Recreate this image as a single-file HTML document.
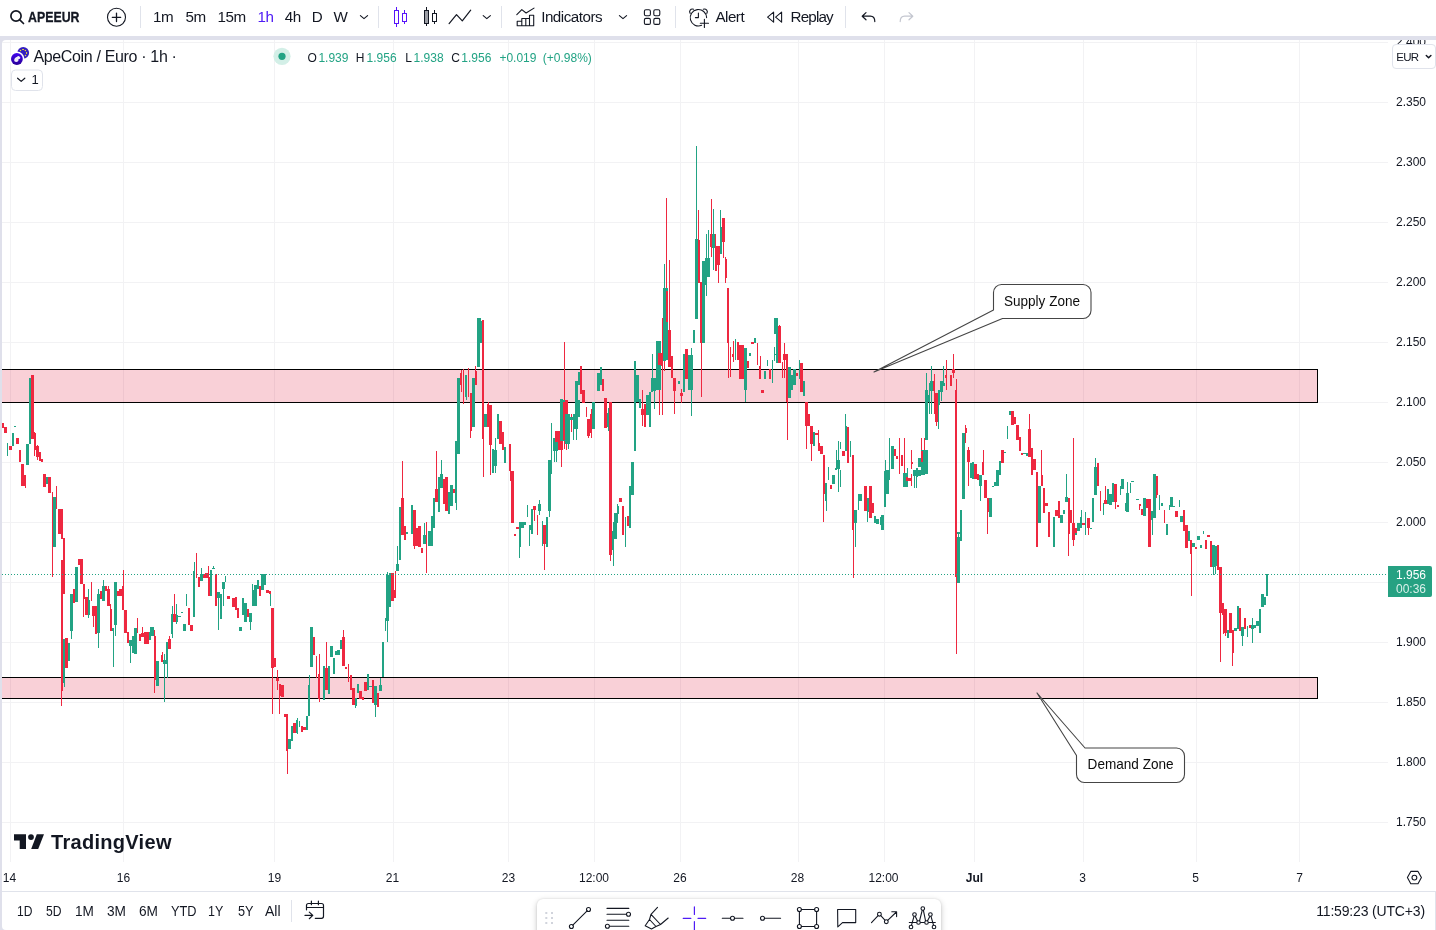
<!DOCTYPE html>
<html lang="en">
<head>
<meta charset="utf-8">
<title>APEEUR chart</title>
<style>
*{box-sizing:border-box;margin:0;padding:0}
html,body{width:1436px;height:930px;overflow:hidden;background:#fff}
body{position:relative;font-family:"Liberation Sans",sans-serif;color:#131722;-webkit-font-smoothing:antialiased}
.abs{position:absolute}
#frame{position:absolute;left:0;top:36px;width:1436px;height:894px;background:#dfe0eb}
#inner{position:absolute;left:2px;top:4px;width:1434px;height:890px;background:#fff;border-radius:4px 0 0 4px}
#topbar{position:absolute;left:0;top:0;width:1436px;height:36px;background:#fff}
.tb{position:absolute;top:0;height:36px;line-height:33px;font-size:15.200px;letter-spacing:-0.500px;white-space:nowrap;color:#131722}
.sep{position:absolute;width:1px;background:#e0e3eb}
.tl{position:absolute;top:870px;height:16px;line-height:16px;font-size:12px;transform:translateX(-50%);white-space:nowrap;color:#131722}
.pl{position:absolute;left:1396px;height:16px;line-height:16px;font-size:12px;white-space:nowrap;color:#131722}
.bb{position:absolute;top:892px;height:38px;line-height:38px;font-size:14px;white-space:nowrap;color:#131722}
#root{position:absolute;left:0;top:0;width:1436px;height:930px;will-change:transform}
svg{position:absolute;left:0;top:0;overflow:visible}
</style>
</head>
<body>
<div id="root">
<div id="frame"><div id="inner"></div></div>
<div id="topbar"></div>

<!-- chart svg: grid, zones, candles -->
<svg id="chart" width="1436" height="930" viewBox="0 0 1436 930">
<defs><clipPath id="pane"><rect x="2" y="40" width="1386" height="822"/></clipPath></defs>
<g clip-path="url(#pane)">
<g id="grid" shape-rendering="crispEdges" fill="#f2f2f4">
<rect x="2" y="42" width="1386" height="1"/>
<rect x="2" y="102" width="1386" height="1"/>
<rect x="2" y="162" width="1386" height="1"/>
<rect x="2" y="222" width="1386" height="1"/>
<rect x="2" y="282" width="1386" height="1"/>
<rect x="2" y="342" width="1386" height="1"/>
<rect x="2" y="402" width="1386" height="1"/>
<rect x="2" y="462" width="1386" height="1"/>
<rect x="2" y="522" width="1386" height="1"/>
<rect x="2" y="582" width="1386" height="1"/>
<rect x="2" y="642" width="1386" height="1"/>
<rect x="2" y="702" width="1386" height="1"/>
<rect x="2" y="762" width="1386" height="1"/>
<rect x="2" y="822" width="1386" height="1"/>
<rect x="10" y="40" width="1" height="822"/>
<rect x="123" y="40" width="1" height="822"/>
<rect x="274" y="40" width="1" height="822"/>
<rect x="393" y="40" width="1" height="822"/>
<rect x="508" y="40" width="1" height="822"/>
<rect x="594" y="40" width="1" height="822"/>
<rect x="680" y="40" width="1" height="822"/>
<rect x="798" y="40" width="1" height="822"/>
<rect x="884" y="40" width="1" height="822"/>
<rect x="974" y="40" width="1" height="822"/>
<rect x="1083" y="40" width="1" height="822"/>
<rect x="1196" y="40" width="1" height="822"/>
<rect x="1299" y="40" width="1" height="822"/>
</g>
<g id="zones" shape-rendering="crispEdges">
<rect x="-3.5" y="369.5" width="1321.0" height="33.0" fill="rgba(228,25,60,0.205)" stroke="#000" stroke-width="1"/>
<rect x="-3.5" y="677.5" width="1321.0" height="21.0" fill="rgba(228,25,60,0.205)" stroke="#000" stroke-width="1"/>
</g>
<g id="candles" shape-rendering="crispEdges">
<rect x="7" y="443" width="1" height="13" fill="#22a384"/>
<rect x="25" y="486" width="1" height="2" fill="#ee2840"/>
<rect x="34" y="432" width="1" height="24" fill="#ee2840"/>
<rect x="37" y="445" width="1" height="15" fill="#ee2840"/>
<rect x="52" y="492" width="1" height="85" fill="#ee2840"/>
<rect x="56" y="486" width="1" height="23" fill="#ee2840"/>
<rect x="61" y="691" width="1" height="15" fill="#ee2840"/>
<rect x="64" y="683" width="1" height="4" fill="#22a384"/>
<rect x="71" y="631" width="1" height="8" fill="#22a384"/>
<rect x="83" y="599" width="1" height="18" fill="#ee2840"/>
<rect x="88" y="589" width="1" height="29" fill="#22a384"/>
<rect x="91" y="582" width="1" height="19" fill="#ee2840"/>
<rect x="93" y="616" width="1" height="11" fill="#ee2840"/>
<rect x="98" y="589" width="1" height="59" fill="#22a384"/>
<rect x="103" y="580" width="1" height="6" fill="#22a384"/>
<rect x="108" y="586" width="1" height="3" fill="#ee2840"/>
<rect x="110" y="604" width="1" height="5" fill="#ee2840"/>
<rect x="113" y="628" width="1" height="39" fill="#22a384"/>
<rect x="115" y="625" width="1" height="11" fill="#22a384"/>
<rect x="123" y="570" width="1" height="16" fill="#ee2840"/>
<rect x="130" y="646" width="1" height="17" fill="#22a384"/>
<rect x="137" y="618" width="1" height="15" fill="#ee2840"/>
<rect x="142" y="627" width="1" height="6" fill="#ee2840"/>
<rect x="150" y="627" width="1" height="5" fill="#22a384"/>
<rect x="154" y="630" width="1" height="63" fill="#ee2840"/>
<rect x="162" y="652" width="1" height="3" fill="#ee2840"/>
<rect x="164" y="654" width="1" height="48" fill="#22a384"/>
<rect x="167" y="664" width="1" height="14" fill="#22a384"/>
<rect x="169" y="636" width="1" height="3" fill="#ee2840"/>
<rect x="172" y="606" width="1" height="32" fill="#22a384"/>
<rect x="174" y="594" width="1" height="20" fill="#ee2840"/>
<rect x="176" y="604" width="1" height="20" fill="#22a384"/>
<rect x="186" y="594" width="1" height="12" fill="#22a384"/>
<rect x="194" y="562" width="1" height="9" fill="#22a384"/>
<rect x="196" y="553" width="1" height="25" fill="#ee2840"/>
<rect x="201" y="568" width="1" height="6" fill="#22a384"/>
<rect x="208" y="566" width="1" height="11" fill="#ee2840"/>
<rect x="213" y="566" width="1" height="2" fill="#22a384"/>
<rect x="218" y="598" width="1" height="32" fill="#22a384"/>
<rect x="223" y="589" width="1" height="17" fill="#22a384"/>
<rect x="225" y="576" width="1" height="6" fill="#22a384"/>
<rect x="250" y="622" width="1" height="8" fill="#22a384"/>
<rect x="252" y="584" width="1" height="6" fill="#22a384"/>
<rect x="270" y="593" width="1" height="13" fill="#22a384"/>
<rect x="272" y="668" width="1" height="46" fill="#ee2840"/>
<rect x="277" y="670" width="1" height="20" fill="#ee2840"/>
<rect x="279" y="684" width="1" height="30" fill="#ee2840"/>
<rect x="287" y="751" width="1" height="3" fill="#ee2840"/>
<rect x="287" y="751" width="1" height="23" fill="#ee2840"/>
<rect x="294" y="723" width="1" height="10" fill="#ee2840"/>
<rect x="297" y="718" width="1" height="2" fill="#22a384"/>
<rect x="297" y="718" width="1" height="16" fill="#22a384"/>
<rect x="299" y="721" width="1" height="6" fill="#22a384"/>
<rect x="309" y="675" width="1" height="10" fill="#22a384"/>
<rect x="316" y="656" width="1" height="22" fill="#ee2840"/>
<rect x="319" y="654" width="1" height="48" fill="#ee2840"/>
<rect x="326" y="642" width="1" height="26" fill="#ee2840"/>
<rect x="343" y="630" width="1" height="7" fill="#ee2840"/>
<rect x="348" y="664" width="1" height="18" fill="#ee2840"/>
<rect x="355" y="706" width="1" height="2" fill="#22a384"/>
<rect x="375" y="705" width="1" height="12" fill="#22a384"/>
<rect x="380" y="678" width="1" height="7" fill="#22a384"/>
<rect x="385" y="618" width="1" height="13" fill="#22a384"/>
<rect x="387" y="621" width="1" height="21" fill="#22a384"/>
<rect x="387" y="572" width="1" height="3" fill="#22a384"/>
<rect x="395" y="571" width="1" height="23" fill="#ee2840"/>
<rect x="397" y="546" width="1" height="18" fill="#22a384"/>
<rect x="402" y="461" width="1" height="37" fill="#ee2840"/>
<rect x="414" y="546" width="1" height="3" fill="#ee2840"/>
<rect x="424" y="523" width="1" height="12" fill="#22a384"/>
<rect x="426" y="522" width="1" height="51" fill="#ee2840"/>
<rect x="436" y="451" width="1" height="38" fill="#ee2840"/>
<rect x="441" y="460" width="1" height="14" fill="#22a384"/>
<rect x="456" y="503" width="1" height="7" fill="#22a384"/>
<rect x="461" y="370" width="1" height="22" fill="#ee2840"/>
<rect x="463" y="369" width="1" height="35" fill="#ee2840"/>
<rect x="466" y="397" width="1" height="3" fill="#22a384"/>
<rect x="468" y="368" width="1" height="29" fill="#ee2840"/>
<rect x="470" y="431" width="1" height="7" fill="#ee2840"/>
<rect x="475" y="366" width="1" height="5" fill="#ee2840"/>
<rect x="480" y="318" width="1" height="3" fill="#22a384"/>
<rect x="483" y="439" width="1" height="38" fill="#ee2840"/>
<rect x="483" y="439" width="1" height="15" fill="#ee2840"/>
<rect x="488" y="402" width="1" height="25" fill="#ee2840"/>
<rect x="490" y="445" width="1" height="30" fill="#ee2840"/>
<rect x="495" y="439" width="1" height="34" fill="#22a384"/>
<rect x="495" y="438" width="1" height="16" fill="#22a384"/>
<rect x="510" y="444" width="1" height="37" fill="#ee2840"/>
<rect x="519" y="547" width="1" height="11" fill="#22a384"/>
<rect x="527" y="505" width="1" height="12" fill="#22a384"/>
<rect x="529" y="530" width="1" height="16" fill="#22a384"/>
<rect x="534" y="510" width="1" height="11" fill="#ee2840"/>
<rect x="537" y="515" width="1" height="20" fill="#ee2840"/>
<rect x="539" y="500" width="1" height="15" fill="#22a384"/>
<rect x="542" y="521" width="1" height="25" fill="#22a384"/>
<rect x="544" y="544" width="1" height="26" fill="#ee2840"/>
<rect x="549" y="511" width="1" height="6" fill="#22a384"/>
<rect x="551" y="423" width="1" height="51" fill="#22a384"/>
<rect x="551" y="423" width="1" height="31" fill="#22a384"/>
<rect x="554" y="451" width="1" height="11" fill="#22a384"/>
<rect x="556" y="451" width="1" height="11" fill="#22a384"/>
<rect x="561" y="450" width="1" height="17" fill="#ee2840"/>
<rect x="564" y="342" width="1" height="60" fill="#ee2840"/>
<rect x="564" y="440" width="1" height="9" fill="#ee2840"/>
<rect x="566" y="441" width="1" height="9" fill="#ee2840"/>
<rect x="568" y="444" width="1" height="5" fill="#22a384"/>
<rect x="571" y="414" width="1" height="18" fill="#ee2840"/>
<rect x="573" y="414" width="1" height="18" fill="#ee2840"/>
<rect x="573" y="429" width="1" height="11" fill="#22a384"/>
<rect x="576" y="429" width="1" height="11" fill="#22a384"/>
<rect x="586" y="407" width="1" height="10" fill="#ee2840"/>
<rect x="588" y="436" width="1" height="2" fill="#ee2840"/>
<rect x="591" y="409" width="1" height="29" fill="#ee2840"/>
<rect x="608" y="408" width="1" height="23" fill="#22a384"/>
<rect x="610" y="555" width="1" height="6" fill="#ee2840"/>
<rect x="613" y="522" width="1" height="44" fill="#22a384"/>
<rect x="617" y="504" width="1" height="19" fill="#22a384"/>
<rect x="625" y="517" width="1" height="30" fill="#22a384"/>
<rect x="642" y="405" width="1" height="21" fill="#ee2840"/>
<rect x="642" y="390" width="1" height="36" fill="#ee2840"/>
<rect x="652" y="354" width="1" height="38" fill="#22a384"/>
<rect x="654" y="400" width="1" height="8" fill="#22a384"/>
<rect x="654" y="378" width="1" height="30" fill="#22a384"/>
<rect x="654" y="391" width="1" height="18" fill="#22a384"/>
<rect x="659" y="400" width="1" height="15" fill="#ee2840"/>
<rect x="659" y="365" width="1" height="49" fill="#ee2840"/>
<rect x="662" y="366" width="1" height="49" fill="#ee2840"/>
<rect x="662" y="318" width="1" height="16" fill="#ee2840"/>
<rect x="662" y="318" width="1" height="47" fill="#ee2840"/>
<rect x="664" y="318" width="1" height="53" fill="#ee2840"/>
<rect x="664" y="264" width="1" height="24" fill="#22a384"/>
<rect x="666" y="264" width="1" height="24" fill="#22a384"/>
<rect x="666" y="198" width="1" height="93" fill="#ee2840"/>
<rect x="669" y="260" width="1" height="62" fill="#ee2840"/>
<rect x="669" y="305" width="1" height="25" fill="#ee2840"/>
<rect x="674" y="391" width="1" height="23" fill="#ee2840"/>
<rect x="681" y="389" width="1" height="14" fill="#ee2840"/>
<rect x="691" y="390" width="1" height="26" fill="#22a384"/>
<rect x="691" y="348" width="1" height="7" fill="#22a384"/>
<rect x="696" y="146" width="1" height="93" fill="#22a384"/>
<rect x="698" y="210" width="1" height="30" fill="#ee2840"/>
<rect x="701" y="343" width="1" height="54" fill="#ee2840"/>
<rect x="706" y="234" width="1" height="62" fill="#22a384"/>
<rect x="708" y="230" width="1" height="28" fill="#22a384"/>
<rect x="711" y="199" width="1" height="35" fill="#ee2840"/>
<rect x="711" y="247" width="1" height="10" fill="#ee2840"/>
<rect x="713" y="209" width="1" height="25" fill="#22a384"/>
<rect x="713" y="248" width="1" height="22" fill="#22a384"/>
<rect x="715" y="234" width="1" height="12" fill="#ee2840"/>
<rect x="718" y="265" width="1" height="18" fill="#ee2840"/>
<rect x="720" y="210" width="1" height="17" fill="#22a384"/>
<rect x="723" y="242" width="1" height="16" fill="#ee2840"/>
<rect x="725" y="257" width="1" height="2" fill="#ee2840"/>
<rect x="725" y="278" width="1" height="5" fill="#ee2840"/>
<rect x="728" y="343" width="1" height="35" fill="#ee2840"/>
<rect x="730" y="347" width="1" height="30" fill="#ee2840"/>
<rect x="733" y="341" width="1" height="21" fill="#ee2840"/>
<rect x="735" y="339" width="1" height="21" fill="#22a384"/>
<rect x="745" y="390" width="1" height="12" fill="#22a384"/>
<rect x="757" y="343" width="1" height="22" fill="#ee2840"/>
<rect x="760" y="356" width="1" height="10" fill="#ee2840"/>
<rect x="767" y="360" width="1" height="6" fill="#22a384"/>
<rect x="772" y="360" width="1" height="23" fill="#22a384"/>
<rect x="774" y="347" width="1" height="14" fill="#22a384"/>
<rect x="779" y="325" width="1" height="2" fill="#ee2840"/>
<rect x="779" y="325" width="1" height="1" fill="#ee2840"/>
<rect x="782" y="362" width="1" height="16" fill="#ee2840"/>
<rect x="784" y="343" width="1" height="35" fill="#ee2840"/>
<rect x="787" y="402" width="1" height="38" fill="#ee2840"/>
<rect x="799" y="360" width="1" height="19" fill="#22a384"/>
<rect x="806" y="426" width="1" height="23" fill="#ee2840"/>
<rect x="811" y="444" width="1" height="17" fill="#ee2840"/>
<rect x="818" y="430" width="1" height="16" fill="#ee2840"/>
<rect x="823" y="494" width="1" height="28" fill="#ee2840"/>
<rect x="826" y="501" width="1" height="10" fill="#22a384"/>
<rect x="828" y="467" width="1" height="13" fill="#22a384"/>
<rect x="828" y="470" width="1" height="9" fill="#22a384"/>
<rect x="833" y="475" width="1" height="9" fill="#22a384"/>
<rect x="836" y="450" width="1" height="19" fill="#22a384"/>
<rect x="838" y="441" width="1" height="46" fill="#22a384"/>
<rect x="838" y="487" width="1" height="5" fill="#22a384"/>
<rect x="840" y="442" width="1" height="7" fill="#22a384"/>
<rect x="840" y="470" width="1" height="17" fill="#22a384"/>
<rect x="845" y="414" width="1" height="12" fill="#22a384"/>
<rect x="850" y="441" width="1" height="16" fill="#22a384"/>
<rect x="853" y="530" width="1" height="48" fill="#ee2840"/>
<rect x="855" y="523" width="1" height="24" fill="#22a384"/>
<rect x="858" y="494" width="1" height="16" fill="#22a384"/>
<rect x="867" y="512" width="1" height="10" fill="#22a384"/>
<rect x="880" y="517" width="1" height="8" fill="#22a384"/>
<rect x="885" y="460" width="1" height="11" fill="#22a384"/>
<rect x="889" y="438" width="1" height="42" fill="#22a384"/>
<rect x="899" y="438" width="1" height="36" fill="#ee2840"/>
<rect x="904" y="438" width="1" height="35" fill="#ee2840"/>
<rect x="907" y="468" width="1" height="5" fill="#22a384"/>
<rect x="911" y="450" width="1" height="19" fill="#ee2840"/>
<rect x="911" y="474" width="1" height="12" fill="#ee2840"/>
<rect x="914" y="474" width="1" height="12" fill="#ee2840"/>
<rect x="914" y="476" width="1" height="12" fill="#22a384"/>
<rect x="916" y="477" width="1" height="11" fill="#22a384"/>
<rect x="921" y="438" width="1" height="13" fill="#ee2840"/>
<rect x="924" y="438" width="1" height="13" fill="#ee2840"/>
<rect x="926" y="373" width="1" height="17" fill="#22a384"/>
<rect x="929" y="383" width="1" height="31" fill="#22a384"/>
<rect x="931" y="366" width="1" height="48" fill="#22a384"/>
<rect x="934" y="374" width="1" height="40" fill="#ee2840"/>
<rect x="936" y="422" width="1" height="4" fill="#ee2840"/>
<rect x="938" y="405" width="1" height="24" fill="#22a384"/>
<rect x="941" y="392" width="1" height="9" fill="#22a384"/>
<rect x="943" y="366" width="1" height="17" fill="#22a384"/>
<rect x="946" y="360" width="1" height="30" fill="#ee2840"/>
<rect x="953" y="354" width="1" height="24" fill="#ee2840"/>
<rect x="956" y="577" width="1" height="77" fill="#ee2840"/>
<rect x="956" y="379" width="1" height="11" fill="#ee2840"/>
<rect x="958" y="533" width="1" height="4" fill="#22a384"/>
<rect x="960" y="510" width="1" height="24" fill="#22a384"/>
<rect x="965" y="425" width="1" height="18" fill="#ee2840"/>
<rect x="968" y="447" width="1" height="39" fill="#ee2840"/>
<rect x="980" y="486" width="1" height="15" fill="#22a384"/>
<rect x="983" y="450" width="1" height="12" fill="#ee2840"/>
<rect x="987" y="510" width="1" height="24" fill="#ee2840"/>
<rect x="987" y="512" width="1" height="22" fill="#ee2840"/>
<rect x="1007" y="426" width="1" height="13" fill="#22a384"/>
<rect x="1029" y="414" width="1" height="15" fill="#ee2840"/>
<rect x="1041" y="450" width="1" height="25" fill="#ee2840"/>
<rect x="1066" y="474" width="1" height="23" fill="#22a384"/>
<rect x="1068" y="528" width="1" height="28" fill="#ee2840"/>
<rect x="1073" y="438" width="1" height="85" fill="#ee2840"/>
<rect x="1073" y="540" width="1" height="6" fill="#ee2840"/>
<rect x="1081" y="510" width="1" height="14" fill="#22a384"/>
<rect x="1085" y="512" width="1" height="22" fill="#22a384"/>
<rect x="1085" y="512" width="1" height="23" fill="#22a384"/>
<rect x="1088" y="528" width="1" height="7" fill="#ee2840"/>
<rect x="1095" y="458" width="1" height="9" fill="#22a384"/>
<rect x="1100" y="491" width="1" height="20" fill="#ee2840"/>
<rect x="1103" y="503" width="1" height="12" fill="#22a384"/>
<rect x="1103" y="510" width="1" height="5" fill="#22a384"/>
<rect x="1105" y="486" width="1" height="18" fill="#ee2840"/>
<rect x="1115" y="502" width="1" height="7" fill="#ee2840"/>
<rect x="1120" y="486" width="1" height="9" fill="#22a384"/>
<rect x="1125" y="503" width="1" height="8" fill="#22a384"/>
<rect x="1127" y="482" width="1" height="11" fill="#22a384"/>
<rect x="1130" y="483" width="1" height="10" fill="#22a384"/>
<rect x="1139" y="506" width="1" height="4" fill="#ee2840"/>
<rect x="1152" y="520" width="1" height="11" fill="#22a384"/>
<rect x="1152" y="519" width="1" height="16" fill="#22a384"/>
<rect x="1156" y="495" width="1" height="3" fill="#ee2840"/>
<rect x="1159" y="495" width="1" height="15" fill="#22a384"/>
<rect x="1164" y="510" width="1" height="13" fill="#ee2840"/>
<rect x="1169" y="505" width="1" height="5" fill="#22a384"/>
<rect x="1179" y="500" width="1" height="7" fill="#22a384"/>
<rect x="1191" y="554" width="1" height="42" fill="#ee2840"/>
<rect x="1203" y="531" width="1" height="3" fill="#22a384"/>
<rect x="1203" y="531" width="1" height="2" fill="#22a384"/>
<rect x="1213" y="567" width="1" height="8" fill="#22a384"/>
<rect x="1215" y="566" width="1" height="8" fill="#22a384"/>
<rect x="1220" y="613" width="1" height="49" fill="#ee2840"/>
<rect x="1223" y="615" width="1" height="19" fill="#ee2840"/>
<rect x="1225" y="633" width="1" height="3" fill="#ee2840"/>
<rect x="1232" y="653" width="1" height="13" fill="#ee2840"/>
<rect x="1242" y="636" width="1" height="10" fill="#22a384"/>
<rect x="1247" y="626" width="1" height="11" fill="#22a384"/>
<rect x="1252" y="618" width="1" height="25" fill="#22a384"/>
<rect x="2" y="423" width="2" height="5" fill="#ee2840"/>
<rect x="4" y="427" width="3" height="6" fill="#ee2840"/>
<rect x="9" y="446" width="3" height="4" fill="#ee2840"/>
<rect x="12" y="433" width="2" height="13" fill="#22a384"/>
<rect x="14" y="426" width="2" height="1" fill="#22a384"/>
<rect x="16" y="438" width="3" height="6" fill="#ee2840"/>
<rect x="19" y="450" width="2" height="12" fill="#ee2840"/>
<rect x="21" y="464" width="3" height="22" fill="#ee2840"/>
<rect x="24" y="475" width="2" height="11" fill="#ee2840"/>
<rect x="26" y="444" width="3" height="21" fill="#22a384"/>
<rect x="29" y="378" width="2" height="66" fill="#22a384"/>
<rect x="31" y="375" width="3" height="64" fill="#ee2840"/>
<rect x="34" y="433" width="2" height="17" fill="#ee2840"/>
<rect x="36" y="446" width="3" height="11" fill="#ee2840"/>
<rect x="39" y="452" width="2" height="9" fill="#ee2840"/>
<rect x="41" y="459" width="2" height="3" fill="#ee2840"/>
<rect x="43" y="474" width="3" height="13" fill="#ee2840"/>
<rect x="46" y="477" width="2" height="7" fill="#22a384"/>
<rect x="48" y="477" width="3" height="16" fill="#ee2840"/>
<rect x="53" y="497" width="3" height="50" fill="#22a384"/>
<rect x="58" y="509" width="3" height="25" fill="#ee2840"/>
<rect x="61" y="509" width="2" height="30" fill="#ee2840"/>
<rect x="61" y="560" width="2" height="131" fill="#ee2840"/>
<rect x="63" y="538" width="2" height="56" fill="#ee2840"/>
<rect x="63" y="639" width="2" height="44" fill="#22a384"/>
<rect x="65" y="638" width="3" height="30" fill="#ee2840"/>
<rect x="68" y="643" width="2" height="18" fill="#22a384"/>
<rect x="70" y="594" width="3" height="37" fill="#22a384"/>
<rect x="73" y="589" width="2" height="14" fill="#ee2840"/>
<rect x="75" y="567" width="3" height="35" fill="#22a384"/>
<rect x="78" y="559" width="2" height="6" fill="#ee2840"/>
<rect x="80" y="559" width="3" height="25" fill="#ee2840"/>
<rect x="83" y="584" width="2" height="15" fill="#ee2840"/>
<rect x="85" y="597" width="3" height="18" fill="#ee2840"/>
<rect x="88" y="600" width="2" height="15" fill="#22a384"/>
<rect x="92" y="606" width="3" height="10" fill="#ee2840"/>
<rect x="95" y="606" width="2" height="28" fill="#ee2840"/>
<rect x="97" y="594" width="3" height="39" fill="#22a384"/>
<rect x="100" y="591" width="2" height="8" fill="#ee2840"/>
<rect x="102" y="586" width="3" height="15" fill="#22a384"/>
<rect x="105" y="586" width="2" height="5" fill="#ee2840"/>
<rect x="107" y="589" width="3" height="17" fill="#ee2840"/>
<rect x="110" y="609" width="2" height="22" fill="#ee2840"/>
<rect x="112" y="628" width="2" height="3" fill="#22a384"/>
<rect x="114" y="582" width="3" height="43" fill="#22a384"/>
<rect x="117" y="591" width="2" height="5" fill="#ee2840"/>
<rect x="119" y="589" width="3" height="7" fill="#ee2840"/>
<rect x="122" y="586" width="2" height="24" fill="#ee2840"/>
<rect x="124" y="610" width="3" height="23" fill="#ee2840"/>
<rect x="127" y="632" width="2" height="11" fill="#ee2840"/>
<rect x="129" y="640" width="3" height="6" fill="#22a384"/>
<rect x="132" y="636" width="2" height="17" fill="#22a384"/>
<rect x="134" y="628" width="3" height="26" fill="#22a384"/>
<rect x="139" y="634" width="2" height="7" fill="#ee2840"/>
<rect x="141" y="633" width="3" height="4" fill="#ee2840"/>
<rect x="144" y="632" width="2" height="12" fill="#ee2840"/>
<rect x="146" y="632" width="3" height="12" fill="#ee2840"/>
<rect x="149" y="632" width="2" height="8" fill="#22a384"/>
<rect x="151" y="627" width="3" height="9" fill="#22a384"/>
<rect x="154" y="636" width="2" height="44" fill="#ee2840"/>
<rect x="156" y="661" width="3" height="25" fill="#22a384"/>
<rect x="161" y="655" width="2" height="7" fill="#ee2840"/>
<rect x="163" y="660" width="3" height="4" fill="#22a384"/>
<rect x="166" y="642" width="2" height="22" fill="#22a384"/>
<rect x="168" y="639" width="3" height="10" fill="#ee2840"/>
<rect x="171" y="614" width="2" height="20" fill="#22a384"/>
<rect x="173" y="614" width="3" height="8" fill="#ee2840"/>
<rect x="176" y="615" width="2" height="7" fill="#22a384"/>
<rect x="178" y="616" width="3" height="1" fill="#22a384"/>
<rect x="181" y="612" width="2" height="1" fill="#22a384"/>
<rect x="183" y="624" width="3" height="7" fill="#22a384"/>
<rect x="188" y="608" width="2" height="17" fill="#ee2840"/>
<rect x="190" y="625" width="3" height="6" fill="#ee2840"/>
<rect x="193" y="571" width="2" height="46" fill="#22a384"/>
<rect x="198" y="577" width="2" height="10" fill="#ee2840"/>
<rect x="200" y="574" width="3" height="7" fill="#22a384"/>
<rect x="203" y="574" width="2" height="4" fill="#ee2840"/>
<rect x="205" y="573" width="3" height="5" fill="#ee2840"/>
<rect x="208" y="577" width="2" height="19" fill="#ee2840"/>
<rect x="210" y="570" width="2" height="26" fill="#22a384"/>
<rect x="212" y="568" width="3" height="1" fill="#22a384"/>
<rect x="215" y="574" width="2" height="32" fill="#ee2840"/>
<rect x="217" y="592" width="3" height="6" fill="#22a384"/>
<rect x="220" y="594" width="2" height="25" fill="#22a384"/>
<rect x="222" y="582" width="3" height="7" fill="#22a384"/>
<rect x="227" y="596" width="3" height="3" fill="#ee2840"/>
<rect x="232" y="598" width="3" height="9" fill="#ee2840"/>
<rect x="235" y="597" width="2" height="13" fill="#ee2840"/>
<rect x="237" y="608" width="2" height="10" fill="#ee2840"/>
<rect x="239" y="627" width="3" height="4" fill="#22a384"/>
<rect x="242" y="598" width="2" height="17" fill="#22a384"/>
<rect x="244" y="603" width="3" height="19" fill="#22a384"/>
<rect x="247" y="609" width="2" height="8" fill="#ee2840"/>
<rect x="249" y="613" width="3" height="9" fill="#22a384"/>
<rect x="252" y="590" width="2" height="16" fill="#22a384"/>
<rect x="254" y="585" width="3" height="21" fill="#22a384"/>
<rect x="257" y="580" width="2" height="9" fill="#22a384"/>
<rect x="259" y="586" width="2" height="10" fill="#ee2840"/>
<rect x="261" y="574" width="3" height="16" fill="#22a384"/>
<rect x="264" y="574" width="2" height="11" fill="#22a384"/>
<rect x="266" y="590" width="3" height="3" fill="#ee2840"/>
<rect x="269" y="591" width="2" height="3" fill="#ee2840"/>
<rect x="271" y="608" width="3" height="60" fill="#ee2840"/>
<rect x="274" y="658" width="2" height="9" fill="#ee2840"/>
<rect x="276" y="678" width="3" height="3" fill="#ee2840"/>
<rect x="279" y="684" width="2" height="12" fill="#ee2840"/>
<rect x="281" y="685" width="3" height="12" fill="#ee2840"/>
<rect x="284" y="714" width="2" height="3" fill="#ee2840"/>
<rect x="286" y="714" width="2" height="37" fill="#ee2840"/>
<rect x="288" y="739" width="3" height="9" fill="#22a384"/>
<rect x="288" y="739" width="3" height="10" fill="#22a384"/>
<rect x="291" y="726" width="2" height="15" fill="#22a384"/>
<rect x="291" y="726" width="2" height="14" fill="#22a384"/>
<rect x="293" y="723" width="3" height="10" fill="#ee2840"/>
<rect x="293" y="728" width="3" height="5" fill="#ee2840"/>
<rect x="296" y="720" width="2" height="13" fill="#22a384"/>
<rect x="301" y="726" width="2" height="6" fill="#ee2840"/>
<rect x="303" y="727" width="3" height="3" fill="#ee2840"/>
<rect x="306" y="716" width="2" height="14" fill="#22a384"/>
<rect x="308" y="685" width="2" height="31" fill="#22a384"/>
<rect x="310" y="627" width="3" height="40" fill="#22a384"/>
<rect x="313" y="637" width="2" height="18" fill="#ee2840"/>
<rect x="318" y="674" width="2" height="25" fill="#ee2840"/>
<rect x="323" y="666" width="2" height="34" fill="#22a384"/>
<rect x="325" y="668" width="3" height="22" fill="#ee2840"/>
<rect x="328" y="666" width="2" height="28" fill="#22a384"/>
<rect x="330" y="646" width="3" height="11" fill="#22a384"/>
<rect x="333" y="658" width="2" height="16" fill="#22a384"/>
<rect x="335" y="651" width="2" height="4" fill="#22a384"/>
<rect x="337" y="650" width="3" height="5" fill="#22a384"/>
<rect x="340" y="640" width="2" height="9" fill="#22a384"/>
<rect x="342" y="637" width="3" height="29" fill="#ee2840"/>
<rect x="345" y="667" width="2" height="2" fill="#ee2840"/>
<rect x="350" y="675" width="2" height="15" fill="#ee2840"/>
<rect x="352" y="688" width="3" height="17" fill="#ee2840"/>
<rect x="355" y="698" width="2" height="8" fill="#22a384"/>
<rect x="357" y="684" width="2" height="9" fill="#22a384"/>
<rect x="359" y="691" width="3" height="8" fill="#ee2840"/>
<rect x="362" y="697" width="2" height="3" fill="#ee2840"/>
<rect x="364" y="682" width="3" height="9" fill="#ee2840"/>
<rect x="367" y="674" width="2" height="16" fill="#22a384"/>
<rect x="369" y="686" width="3" height="1" fill="#22a384"/>
<rect x="372" y="680" width="2" height="23" fill="#ee2840"/>
<rect x="374" y="686" width="3" height="19" fill="#22a384"/>
<rect x="377" y="693" width="2" height="14" fill="#ee2840"/>
<rect x="379" y="685" width="3" height="6" fill="#22a384"/>
<rect x="382" y="642" width="2" height="35" fill="#22a384"/>
<rect x="386" y="590" width="3" height="31" fill="#22a384"/>
<rect x="386" y="575" width="3" height="19" fill="#22a384"/>
<rect x="389" y="590" width="2" height="17" fill="#22a384"/>
<rect x="389" y="573" width="2" height="21" fill="#22a384"/>
<rect x="391" y="590" width="3" height="11" fill="#ee2840"/>
<rect x="391" y="573" width="3" height="21" fill="#ee2840"/>
<rect x="394" y="590" width="2" height="8" fill="#ee2840"/>
<rect x="396" y="564" width="3" height="7" fill="#22a384"/>
<rect x="399" y="507" width="2" height="53" fill="#22a384"/>
<rect x="401" y="498" width="3" height="37" fill="#ee2840"/>
<rect x="404" y="526" width="2" height="14" fill="#ee2840"/>
<rect x="406" y="532" width="2" height="2" fill="#22a384"/>
<rect x="411" y="505" width="2" height="29" fill="#22a384"/>
<rect x="413" y="510" width="3" height="36" fill="#ee2840"/>
<rect x="416" y="528" width="2" height="18" fill="#ee2840"/>
<rect x="418" y="526" width="3" height="21" fill="#ee2840"/>
<rect x="421" y="548" width="2" height="5" fill="#ee2840"/>
<rect x="423" y="535" width="3" height="9" fill="#22a384"/>
<rect x="428" y="531" width="3" height="15" fill="#22a384"/>
<rect x="431" y="516" width="2" height="30" fill="#22a384"/>
<rect x="433" y="498" width="2" height="30" fill="#22a384"/>
<rect x="435" y="489" width="3" height="13" fill="#ee2840"/>
<rect x="438" y="477" width="2" height="35" fill="#22a384"/>
<rect x="440" y="474" width="3" height="14" fill="#22a384"/>
<rect x="443" y="479" width="2" height="25" fill="#ee2840"/>
<rect x="445" y="477" width="3" height="34" fill="#ee2840"/>
<rect x="448" y="492" width="2" height="22" fill="#22a384"/>
<rect x="450" y="485" width="3" height="21" fill="#22a384"/>
<rect x="453" y="489" width="2" height="4" fill="#ee2840"/>
<rect x="455" y="441" width="2" height="62" fill="#22a384"/>
<rect x="457" y="400" width="3" height="50" fill="#22a384"/>
<rect x="457" y="378" width="3" height="76" fill="#22a384"/>
<rect x="460" y="373" width="2" height="12" fill="#ee2840"/>
<rect x="465" y="375" width="2" height="22" fill="#22a384"/>
<rect x="470" y="400" width="2" height="31" fill="#ee2840"/>
<rect x="470" y="393" width="2" height="38" fill="#ee2840"/>
<rect x="472" y="400" width="3" height="27" fill="#22a384"/>
<rect x="472" y="378" width="3" height="49" fill="#22a384"/>
<rect x="475" y="371" width="2" height="14" fill="#ee2840"/>
<rect x="477" y="318" width="3" height="49" fill="#22a384"/>
<rect x="480" y="321" width="2" height="22" fill="#22a384"/>
<rect x="482" y="400" width="2" height="39" fill="#ee2840"/>
<rect x="482" y="320" width="2" height="119" fill="#ee2840"/>
<rect x="484" y="414" width="3" height="13" fill="#22a384"/>
<rect x="487" y="404" width="2" height="23" fill="#ee2840"/>
<rect x="489" y="405" width="3" height="40" fill="#ee2840"/>
<rect x="492" y="449" width="2" height="24" fill="#22a384"/>
<rect x="492" y="449" width="2" height="5" fill="#22a384"/>
<rect x="494" y="450" width="3" height="16" fill="#22a384"/>
<rect x="497" y="414" width="2" height="25" fill="#22a384"/>
<rect x="499" y="421" width="3" height="23" fill="#ee2840"/>
<rect x="502" y="432" width="2" height="18" fill="#ee2840"/>
<rect x="504" y="447" width="2" height="16" fill="#22a384"/>
<rect x="504" y="447" width="2" height="7" fill="#22a384"/>
<rect x="509" y="445" width="2" height="26" fill="#ee2840"/>
<rect x="509" y="444" width="2" height="10" fill="#ee2840"/>
<rect x="511" y="471" width="3" height="52" fill="#ee2840"/>
<rect x="514" y="534" width="2" height="2" fill="#ee2840"/>
<rect x="516" y="527" width="3" height="2" fill="#ee2840"/>
<rect x="519" y="522" width="2" height="25" fill="#22a384"/>
<rect x="521" y="522" width="3" height="6" fill="#22a384"/>
<rect x="524" y="522" width="2" height="3" fill="#22a384"/>
<rect x="529" y="525" width="2" height="5" fill="#22a384"/>
<rect x="531" y="509" width="2" height="25" fill="#22a384"/>
<rect x="533" y="506" width="3" height="4" fill="#ee2840"/>
<rect x="538" y="504" width="3" height="7" fill="#22a384"/>
<rect x="543" y="525" width="3" height="19" fill="#ee2840"/>
<rect x="546" y="517" width="2" height="30" fill="#22a384"/>
<rect x="548" y="460" width="3" height="51" fill="#22a384"/>
<rect x="553" y="438" width="2" height="13" fill="#22a384"/>
<rect x="555" y="438" width="3" height="13" fill="#22a384"/>
<rect x="555" y="431" width="3" height="11" fill="#ee2840"/>
<rect x="558" y="431" width="2" height="11" fill="#ee2840"/>
<rect x="558" y="437" width="2" height="13" fill="#ee2840"/>
<rect x="560" y="437" width="3" height="13" fill="#ee2840"/>
<rect x="560" y="399" width="3" height="42" fill="#22a384"/>
<rect x="563" y="400" width="2" height="41" fill="#22a384"/>
<rect x="563" y="402" width="2" height="38" fill="#ee2840"/>
<rect x="565" y="400" width="3" height="41" fill="#ee2840"/>
<rect x="565" y="414" width="3" height="30" fill="#22a384"/>
<rect x="568" y="414" width="2" height="30" fill="#22a384"/>
<rect x="568" y="417" width="2" height="3" fill="#22a384"/>
<rect x="570" y="417" width="3" height="3" fill="#22a384"/>
<rect x="573" y="414" width="2" height="15" fill="#22a384"/>
<rect x="575" y="414" width="3" height="15" fill="#22a384"/>
<rect x="575" y="381" width="3" height="36" fill="#22a384"/>
<rect x="578" y="400" width="2" height="17" fill="#22a384"/>
<rect x="578" y="372" width="2" height="13" fill="#22a384"/>
<rect x="580" y="366" width="2" height="28" fill="#ee2840"/>
<rect x="582" y="400" width="3" height="3" fill="#ee2840"/>
<rect x="582" y="390" width="3" height="12" fill="#ee2840"/>
<rect x="587" y="419" width="3" height="17" fill="#ee2840"/>
<rect x="587" y="420" width="3" height="16" fill="#ee2840"/>
<rect x="590" y="414" width="2" height="19" fill="#ee2840"/>
<rect x="592" y="403" width="3" height="26" fill="#22a384"/>
<rect x="592" y="402" width="3" height="27" fill="#22a384"/>
<rect x="597" y="373" width="3" height="18" fill="#22a384"/>
<rect x="600" y="367" width="2" height="18" fill="#22a384"/>
<rect x="602" y="379" width="2" height="12" fill="#ee2840"/>
<rect x="604" y="400" width="3" height="28" fill="#ee2840"/>
<rect x="604" y="398" width="3" height="30" fill="#ee2840"/>
<rect x="607" y="413" width="2" height="14" fill="#22a384"/>
<rect x="609" y="402" width="3" height="153" fill="#ee2840"/>
<rect x="609" y="402" width="3" height="52" fill="#ee2840"/>
<rect x="612" y="531" width="2" height="19" fill="#22a384"/>
<rect x="614" y="513" width="3" height="26" fill="#22a384"/>
<rect x="617" y="506" width="2" height="8" fill="#22a384"/>
<rect x="619" y="498" width="3" height="4" fill="#ee2840"/>
<rect x="622" y="506" width="2" height="29" fill="#ee2840"/>
<rect x="627" y="516" width="2" height="10" fill="#ee2840"/>
<rect x="629" y="486" width="2" height="42" fill="#22a384"/>
<rect x="631" y="462" width="3" height="33" fill="#22a384"/>
<rect x="634" y="400" width="2" height="51" fill="#22a384"/>
<rect x="634" y="361" width="2" height="90" fill="#22a384"/>
<rect x="636" y="375" width="3" height="27" fill="#22a384"/>
<rect x="639" y="399" width="2" height="9" fill="#22a384"/>
<rect x="641" y="409" width="3" height="6" fill="#ee2840"/>
<rect x="644" y="410" width="2" height="17" fill="#ee2840"/>
<rect x="644" y="404" width="2" height="23" fill="#ee2840"/>
<rect x="646" y="408" width="3" height="7" fill="#22a384"/>
<rect x="646" y="395" width="3" height="20" fill="#22a384"/>
<rect x="649" y="400" width="2" height="27" fill="#22a384"/>
<rect x="649" y="392" width="2" height="35" fill="#22a384"/>
<rect x="649" y="392" width="2" height="34" fill="#22a384"/>
<rect x="651" y="390" width="2" height="2" fill="#22a384"/>
<rect x="651" y="378" width="2" height="14" fill="#22a384"/>
<rect x="653" y="378" width="3" height="13" fill="#22a384"/>
<rect x="656" y="378" width="2" height="12" fill="#22a384"/>
<rect x="656" y="341" width="2" height="49" fill="#22a384"/>
<rect x="658" y="341" width="3" height="49" fill="#22a384"/>
<rect x="658" y="353" width="3" height="12" fill="#ee2840"/>
<rect x="661" y="353" width="2" height="13" fill="#ee2840"/>
<rect x="661" y="353" width="2" height="8" fill="#ee2840"/>
<rect x="663" y="355" width="3" height="5" fill="#ee2840"/>
<rect x="663" y="288" width="3" height="46" fill="#22a384"/>
<rect x="663" y="300" width="3" height="61" fill="#22a384"/>
<rect x="666" y="288" width="2" height="72" fill="#22a384"/>
<rect x="666" y="291" width="2" height="31" fill="#ee2840"/>
<rect x="666" y="300" width="2" height="22" fill="#ee2840"/>
<rect x="668" y="330" width="3" height="4" fill="#ee2840"/>
<rect x="668" y="330" width="3" height="37" fill="#ee2840"/>
<rect x="671" y="356" width="2" height="22" fill="#ee2840"/>
<rect x="673" y="378" width="3" height="13" fill="#ee2840"/>
<rect x="678" y="381" width="2" height="3" fill="#22a384"/>
<rect x="680" y="393" width="3" height="3" fill="#ee2840"/>
<rect x="683" y="354" width="2" height="38" fill="#22a384"/>
<rect x="685" y="349" width="3" height="30" fill="#ee2840"/>
<rect x="688" y="355" width="2" height="35" fill="#22a384"/>
<rect x="690" y="355" width="3" height="35" fill="#22a384"/>
<rect x="693" y="330" width="2" height="4" fill="#22a384"/>
<rect x="693" y="330" width="2" height="13" fill="#22a384"/>
<rect x="695" y="239" width="3" height="80" fill="#22a384"/>
<rect x="695" y="300" width="3" height="19" fill="#22a384"/>
<rect x="698" y="240" width="2" height="43" fill="#ee2840"/>
<rect x="700" y="282" width="2" height="52" fill="#ee2840"/>
<rect x="700" y="300" width="2" height="43" fill="#ee2840"/>
<rect x="702" y="261" width="3" height="73" fill="#22a384"/>
<rect x="702" y="300" width="3" height="43" fill="#22a384"/>
<rect x="705" y="258" width="2" height="27" fill="#22a384"/>
<rect x="707" y="258" width="3" height="19" fill="#22a384"/>
<rect x="710" y="234" width="2" height="13" fill="#ee2840"/>
<rect x="712" y="234" width="3" height="14" fill="#22a384"/>
<rect x="715" y="246" width="2" height="25" fill="#ee2840"/>
<rect x="717" y="246" width="3" height="19" fill="#ee2840"/>
<rect x="720" y="227" width="2" height="27" fill="#22a384"/>
<rect x="722" y="218" width="3" height="24" fill="#ee2840"/>
<rect x="725" y="259" width="2" height="19" fill="#ee2840"/>
<rect x="727" y="288" width="2" height="46" fill="#ee2840"/>
<rect x="727" y="300" width="2" height="43" fill="#ee2840"/>
<rect x="732" y="354" width="2" height="3" fill="#ee2840"/>
<rect x="737" y="342" width="2" height="18" fill="#ee2840"/>
<rect x="739" y="345" width="3" height="34" fill="#ee2840"/>
<rect x="742" y="345" width="2" height="34" fill="#ee2840"/>
<rect x="744" y="348" width="3" height="42" fill="#22a384"/>
<rect x="747" y="361" width="2" height="7" fill="#ee2840"/>
<rect x="749" y="353" width="2" height="3" fill="#22a384"/>
<rect x="751" y="342" width="3" height="2" fill="#ee2840"/>
<rect x="754" y="338" width="2" height="5" fill="#22a384"/>
<rect x="759" y="366" width="2" height="13" fill="#ee2840"/>
<rect x="761" y="390" width="3" height="3" fill="#ee2840"/>
<rect x="764" y="371" width="2" height="8" fill="#22a384"/>
<rect x="769" y="369" width="2" height="10" fill="#ee2840"/>
<rect x="774" y="318" width="2" height="16" fill="#22a384"/>
<rect x="774" y="354" width="2" height="1" fill="#22a384"/>
<rect x="776" y="318" width="2" height="45" fill="#22a384"/>
<rect x="778" y="327" width="3" height="7" fill="#ee2840"/>
<rect x="778" y="326" width="3" height="37" fill="#ee2840"/>
<rect x="783" y="354" width="3" height="6" fill="#ee2840"/>
<rect x="786" y="354" width="2" height="48" fill="#ee2840"/>
<rect x="788" y="367" width="3" height="31" fill="#22a384"/>
<rect x="791" y="375" width="2" height="15" fill="#22a384"/>
<rect x="793" y="369" width="3" height="16" fill="#22a384"/>
<rect x="796" y="373" width="2" height="3" fill="#ee2840"/>
<rect x="800" y="363" width="3" height="29" fill="#ee2840"/>
<rect x="803" y="381" width="2" height="15" fill="#22a384"/>
<rect x="805" y="402" width="3" height="24" fill="#ee2840"/>
<rect x="808" y="414" width="2" height="12" fill="#ee2840"/>
<rect x="810" y="426" width="3" height="18" fill="#ee2840"/>
<rect x="813" y="432" width="2" height="14" fill="#22a384"/>
<rect x="815" y="433" width="3" height="2" fill="#ee2840"/>
<rect x="818" y="443" width="2" height="8" fill="#ee2840"/>
<rect x="820" y="446" width="3" height="8" fill="#ee2840"/>
<rect x="823" y="455" width="2" height="39" fill="#ee2840"/>
<rect x="823" y="470" width="2" height="24" fill="#ee2840"/>
<rect x="825" y="483" width="2" height="11" fill="#22a384"/>
<rect x="825" y="483" width="2" height="18" fill="#22a384"/>
<rect x="830" y="485" width="2" height="4" fill="#ee2840"/>
<rect x="832" y="475" width="3" height="9" fill="#22a384"/>
<rect x="835" y="468" width="2" height="2" fill="#22a384"/>
<rect x="837" y="460" width="3" height="9" fill="#22a384"/>
<rect x="842" y="451" width="3" height="5" fill="#ee2840"/>
<rect x="845" y="426" width="2" height="25" fill="#22a384"/>
<rect x="847" y="427" width="2" height="36" fill="#ee2840"/>
<rect x="852" y="455" width="2" height="39" fill="#ee2840"/>
<rect x="852" y="470" width="2" height="60" fill="#ee2840"/>
<rect x="854" y="510" width="3" height="13" fill="#22a384"/>
<rect x="859" y="494" width="3" height="7" fill="#22a384"/>
<rect x="864" y="486" width="3" height="8" fill="#ee2840"/>
<rect x="864" y="486" width="3" height="25" fill="#ee2840"/>
<rect x="867" y="498" width="2" height="14" fill="#22a384"/>
<rect x="869" y="486" width="3" height="8" fill="#ee2840"/>
<rect x="869" y="486" width="3" height="32" fill="#ee2840"/>
<rect x="872" y="503" width="2" height="10" fill="#ee2840"/>
<rect x="874" y="516" width="2" height="7" fill="#22a384"/>
<rect x="876" y="519" width="3" height="5" fill="#22a384"/>
<rect x="881" y="515" width="3" height="15" fill="#22a384"/>
<rect x="884" y="471" width="2" height="36" fill="#22a384"/>
<rect x="886" y="471" width="3" height="23" fill="#22a384"/>
<rect x="886" y="470" width="3" height="17" fill="#22a384"/>
<rect x="891" y="446" width="3" height="23" fill="#22a384"/>
<rect x="894" y="449" width="2" height="7" fill="#ee2840"/>
<rect x="896" y="456" width="2" height="3" fill="#ee2840"/>
<rect x="901" y="455" width="2" height="11" fill="#ee2840"/>
<rect x="903" y="473" width="3" height="14" fill="#22a384"/>
<rect x="906" y="473" width="2" height="14" fill="#22a384"/>
<rect x="906" y="477" width="2" height="4" fill="#ee2840"/>
<rect x="908" y="478" width="3" height="3" fill="#ee2840"/>
<rect x="911" y="462" width="2" height="2" fill="#ee2840"/>
<rect x="913" y="470" width="3" height="6" fill="#22a384"/>
<rect x="916" y="468" width="2" height="9" fill="#22a384"/>
<rect x="918" y="458" width="3" height="9" fill="#22a384"/>
<rect x="918" y="470" width="3" height="6" fill="#22a384"/>
<rect x="921" y="450" width="2" height="25" fill="#22a384"/>
<rect x="921" y="451" width="2" height="11" fill="#ee2840"/>
<rect x="923" y="451" width="2" height="12" fill="#ee2840"/>
<rect x="923" y="470" width="2" height="5" fill="#22a384"/>
<rect x="923" y="450" width="2" height="25" fill="#22a384"/>
<rect x="925" y="450" width="3" height="24" fill="#22a384"/>
<rect x="925" y="390" width="3" height="50" fill="#22a384"/>
<rect x="928" y="395" width="2" height="7" fill="#22a384"/>
<rect x="930" y="381" width="3" height="10" fill="#22a384"/>
<rect x="933" y="381" width="2" height="10" fill="#ee2840"/>
<rect x="935" y="393" width="3" height="29" fill="#ee2840"/>
<rect x="938" y="390" width="2" height="15" fill="#22a384"/>
<rect x="940" y="381" width="3" height="11" fill="#22a384"/>
<rect x="943" y="383" width="2" height="3" fill="#22a384"/>
<rect x="945" y="375" width="2" height="3" fill="#ee2840"/>
<rect x="950" y="375" width="2" height="11" fill="#ee2840"/>
<rect x="952" y="369" width="3" height="4" fill="#ee2840"/>
<rect x="955" y="390" width="2" height="144" fill="#ee2840"/>
<rect x="955" y="510" width="2" height="67" fill="#ee2840"/>
<rect x="955" y="390" width="2" height="50" fill="#ee2840"/>
<rect x="957" y="532" width="3" height="2" fill="#22a384"/>
<rect x="957" y="537" width="3" height="46" fill="#22a384"/>
<rect x="960" y="510" width="2" height="31" fill="#22a384"/>
<rect x="962" y="433" width="3" height="66" fill="#22a384"/>
<rect x="965" y="428" width="2" height="5" fill="#ee2840"/>
<rect x="967" y="450" width="3" height="12" fill="#ee2840"/>
<rect x="970" y="463" width="2" height="15" fill="#22a384"/>
<rect x="972" y="462" width="2" height="17" fill="#22a384"/>
<rect x="974" y="464" width="3" height="15" fill="#ee2840"/>
<rect x="977" y="474" width="2" height="6" fill="#ee2840"/>
<rect x="979" y="475" width="3" height="11" fill="#22a384"/>
<rect x="982" y="462" width="2" height="13" fill="#ee2840"/>
<rect x="984" y="480" width="3" height="18" fill="#ee2840"/>
<rect x="987" y="498" width="2" height="12" fill="#ee2840"/>
<rect x="987" y="510" width="2" height="2" fill="#ee2840"/>
<rect x="989" y="498" width="3" height="19" fill="#22a384"/>
<rect x="989" y="510" width="3" height="6" fill="#22a384"/>
<rect x="992" y="486" width="2" height="1" fill="#22a384"/>
<rect x="994" y="482" width="2" height="4" fill="#22a384"/>
<rect x="996" y="470" width="3" height="16" fill="#22a384"/>
<rect x="999" y="461" width="2" height="14" fill="#22a384"/>
<rect x="1001" y="450" width="3" height="13" fill="#ee2840"/>
<rect x="1004" y="452" width="2" height="1" fill="#22a384"/>
<rect x="1009" y="411" width="2" height="4" fill="#22a384"/>
<rect x="1011" y="411" width="3" height="14" fill="#ee2840"/>
<rect x="1014" y="417" width="2" height="7" fill="#ee2840"/>
<rect x="1016" y="425" width="3" height="15" fill="#ee2840"/>
<rect x="1019" y="437" width="2" height="14" fill="#ee2840"/>
<rect x="1021" y="453" width="2" height="2" fill="#ee2840"/>
<rect x="1023" y="453" width="3" height="1" fill="#22a384"/>
<rect x="1026" y="453" width="2" height="3" fill="#22a384"/>
<rect x="1028" y="429" width="3" height="28" fill="#ee2840"/>
<rect x="1031" y="448" width="2" height="27" fill="#ee2840"/>
<rect x="1033" y="459" width="3" height="11" fill="#ee2840"/>
<rect x="1036" y="472" width="2" height="62" fill="#ee2840"/>
<rect x="1036" y="510" width="2" height="37" fill="#ee2840"/>
<rect x="1038" y="486" width="3" height="37" fill="#22a384"/>
<rect x="1038" y="510" width="3" height="13" fill="#22a384"/>
<rect x="1041" y="475" width="2" height="11" fill="#ee2840"/>
<rect x="1043" y="488" width="2" height="24" fill="#ee2840"/>
<rect x="1043" y="510" width="2" height="3" fill="#ee2840"/>
<rect x="1045" y="503" width="3" height="3" fill="#ee2840"/>
<rect x="1048" y="512" width="2" height="22" fill="#ee2840"/>
<rect x="1048" y="512" width="2" height="25" fill="#ee2840"/>
<rect x="1053" y="517" width="2" height="17" fill="#ee2840"/>
<rect x="1053" y="517" width="2" height="30" fill="#22a384"/>
<rect x="1055" y="510" width="3" height="5" fill="#ee2840"/>
<rect x="1055" y="510" width="3" height="6" fill="#ee2840"/>
<rect x="1058" y="501" width="2" height="17" fill="#ee2840"/>
<rect x="1058" y="510" width="2" height="7" fill="#ee2840"/>
<rect x="1060" y="515" width="3" height="8" fill="#22a384"/>
<rect x="1063" y="510" width="2" height="4" fill="#22a384"/>
<rect x="1065" y="497" width="3" height="5" fill="#22a384"/>
<rect x="1068" y="498" width="2" height="36" fill="#ee2840"/>
<rect x="1068" y="510" width="2" height="18" fill="#ee2840"/>
<rect x="1070" y="511" width="2" height="12" fill="#ee2840"/>
<rect x="1070" y="510" width="2" height="13" fill="#ee2840"/>
<rect x="1072" y="523" width="3" height="11" fill="#ee2840"/>
<rect x="1072" y="523" width="3" height="17" fill="#ee2840"/>
<rect x="1075" y="528" width="2" height="6" fill="#ee2840"/>
<rect x="1075" y="533" width="2" height="2" fill="#22a384"/>
<rect x="1077" y="523" width="3" height="8" fill="#22a384"/>
<rect x="1077" y="524" width="3" height="6" fill="#22a384"/>
<rect x="1080" y="517" width="2" height="11" fill="#22a384"/>
<rect x="1082" y="523" width="3" height="2" fill="#ee2840"/>
<rect x="1087" y="518" width="3" height="10" fill="#ee2840"/>
<rect x="1090" y="528" width="2" height="1" fill="#22a384"/>
<rect x="1092" y="498" width="2" height="24" fill="#22a384"/>
<rect x="1092" y="510" width="2" height="11" fill="#22a384"/>
<rect x="1094" y="467" width="3" height="28" fill="#22a384"/>
<rect x="1097" y="463" width="2" height="23" fill="#ee2840"/>
<rect x="1104" y="500" width="3" height="4" fill="#ee2840"/>
<rect x="1107" y="489" width="2" height="15" fill="#22a384"/>
<rect x="1109" y="494" width="3" height="11" fill="#22a384"/>
<rect x="1112" y="483" width="2" height="19" fill="#22a384"/>
<rect x="1114" y="484" width="3" height="18" fill="#ee2840"/>
<rect x="1117" y="505" width="2" height="2" fill="#ee2840"/>
<rect x="1121" y="479" width="3" height="10" fill="#22a384"/>
<rect x="1126" y="493" width="3" height="18" fill="#22a384"/>
<rect x="1126" y="510" width="3" height="2" fill="#22a384"/>
<rect x="1131" y="481" width="3" height="1" fill="#22a384"/>
<rect x="1136" y="499" width="3" height="1" fill="#22a384"/>
<rect x="1139" y="504" width="2" height="2" fill="#ee2840"/>
<rect x="1141" y="509" width="2" height="6" fill="#ee2840"/>
<rect x="1141" y="510" width="2" height="5" fill="#ee2840"/>
<rect x="1143" y="498" width="3" height="17" fill="#22a384"/>
<rect x="1143" y="510" width="3" height="6" fill="#22a384"/>
<rect x="1146" y="499" width="2" height="9" fill="#ee2840"/>
<rect x="1148" y="499" width="3" height="35" fill="#ee2840"/>
<rect x="1148" y="510" width="3" height="37" fill="#ee2840"/>
<rect x="1151" y="511" width="2" height="9" fill="#22a384"/>
<rect x="1151" y="511" width="2" height="8" fill="#22a384"/>
<rect x="1153" y="474" width="3" height="44" fill="#22a384"/>
<rect x="1153" y="510" width="3" height="8" fill="#22a384"/>
<rect x="1156" y="476" width="2" height="19" fill="#ee2840"/>
<rect x="1161" y="503" width="2" height="3" fill="#22a384"/>
<rect x="1166" y="524" width="2" height="10" fill="#22a384"/>
<rect x="1166" y="524" width="2" height="11" fill="#22a384"/>
<rect x="1170" y="497" width="3" height="10" fill="#22a384"/>
<rect x="1173" y="506" width="2" height="1" fill="#22a384"/>
<rect x="1175" y="511" width="3" height="6" fill="#ee2840"/>
<rect x="1175" y="511" width="3" height="5" fill="#ee2840"/>
<rect x="1180" y="517" width="3" height="5" fill="#22a384"/>
<rect x="1180" y="516" width="3" height="6" fill="#22a384"/>
<rect x="1183" y="510" width="2" height="16" fill="#ee2840"/>
<rect x="1183" y="510" width="2" height="21" fill="#ee2840"/>
<rect x="1185" y="525" width="3" height="9" fill="#ee2840"/>
<rect x="1185" y="525" width="3" height="23" fill="#ee2840"/>
<rect x="1188" y="531" width="2" height="3" fill="#22a384"/>
<rect x="1188" y="531" width="2" height="10" fill="#22a384"/>
<rect x="1190" y="540" width="2" height="14" fill="#ee2840"/>
<rect x="1190" y="541" width="2" height="13" fill="#ee2840"/>
<rect x="1192" y="543" width="3" height="4" fill="#22a384"/>
<rect x="1195" y="547" width="2" height="2" fill="#ee2840"/>
<rect x="1195" y="547" width="2" height="1" fill="#ee2840"/>
<rect x="1197" y="536" width="3" height="3" fill="#22a384"/>
<rect x="1197" y="536" width="3" height="4" fill="#22a384"/>
<rect x="1200" y="545" width="2" height="3" fill="#22a384"/>
<rect x="1205" y="540" width="2" height="9" fill="#ee2840"/>
<rect x="1205" y="540" width="2" height="8" fill="#ee2840"/>
<rect x="1207" y="535" width="3" height="2" fill="#ee2840"/>
<rect x="1210" y="541" width="2" height="25" fill="#ee2840"/>
<rect x="1210" y="541" width="2" height="26" fill="#ee2840"/>
<rect x="1212" y="545" width="3" height="22" fill="#22a384"/>
<rect x="1215" y="546" width="2" height="20" fill="#22a384"/>
<rect x="1217" y="546" width="2" height="24" fill="#ee2840"/>
<rect x="1217" y="545" width="2" height="24" fill="#ee2840"/>
<rect x="1219" y="567" width="3" height="46" fill="#ee2840"/>
<rect x="1222" y="603" width="2" height="12" fill="#ee2840"/>
<rect x="1224" y="609" width="3" height="24" fill="#ee2840"/>
<rect x="1227" y="630" width="2" height="8" fill="#22a384"/>
<rect x="1229" y="613" width="3" height="20" fill="#ee2840"/>
<rect x="1232" y="630" width="2" height="23" fill="#ee2840"/>
<rect x="1234" y="628" width="3" height="3" fill="#22a384"/>
<rect x="1237" y="606" width="2" height="23" fill="#22a384"/>
<rect x="1239" y="608" width="2" height="23" fill="#ee2840"/>
<rect x="1241" y="627" width="3" height="9" fill="#22a384"/>
<rect x="1244" y="618" width="2" height="11" fill="#ee2840"/>
<rect x="1249" y="625" width="2" height="3" fill="#ee2840"/>
<rect x="1251" y="625" width="3" height="4" fill="#22a384"/>
<rect x="1254" y="625" width="2" height="3" fill="#22a384"/>
<rect x="1256" y="621" width="3" height="5" fill="#22a384"/>
<rect x="1259" y="609" width="2" height="24" fill="#22a384"/>
<rect x="1261" y="594" width="3" height="13" fill="#22a384"/>
<rect x="1264" y="597" width="2" height="8" fill="#22a384"/>
<rect x="1266" y="574" width="2" height="22" fill="#22a384"/>
</g>
<g id="callouts">
<g fill="#fff" stroke="#454545" stroke-width="1.100" stroke-linejoin="round">
<path d="M1001.500 284.500H1083a8 8 0 0 1 8 8V310.500a8 8 0 0 1 -8 8H1002.500L874 372L993.500 310V292.500a8 8 0 0 1 8 -8Z"/>
<path d="M1085 748H1176.500a8 8 0 0 1 8 8V774.500a8 8 0 0 1 -8 8H1084.500a8 8 0 0 1 -8 -8V755.500L1037 693Z"/>
</g>
<text x="1004" y="306" font-family="Liberation Sans, sans-serif" font-size="15" fill="#0c0c0c" textLength="76" lengthAdjust="spacingAndGlyphs">Supply Zone</text>
<text x="1087.600" y="768.700" font-family="Liberation Sans, sans-serif" font-size="15" fill="#0c0c0c" textLength="86" lengthAdjust="spacingAndGlyphs">Demand Zone</text>
<!-- tradingview logo -->
<g fill="#131722">
<path d="M14 834.200H26V849H19.700V840.500H14Z"/>
<circle cx="31" cy="837.100" r="2.900"/>
<path d="M36.800 834.200H44L38.200 849H31.200Z"/>
</g>
<text x="51" y="849" font-family="Liberation Sans, sans-serif" font-size="20" font-weight="bold" fill="#131722" letter-spacing="0.300">TradingView</text>

</g>
</g>
</svg>

<!-- top toolbar -->
<svg width="1436" height="36" viewBox="0 0 1436 36" fill="none" stroke="#131722" stroke-width="1.2" stroke-linecap="round" stroke-linejoin="round">
<!-- search -->
<circle cx="16" cy="16" r="5.100" stroke-width="1.700"/><path d="M19.800 19.900L23.500 23.500" stroke-width="1.700"/>
<!-- plus circle -->
<circle cx="116.5" cy="17.3" r="9" stroke-width="1.1"/><path d="M112.300 17.300H120.700M116.500 13.100V21.500" stroke-width="1.300"/>
<!-- tf chevron -->
<path d="M360.4 15.6L364 18.7L367.600 15.6" stroke-width="1.100"/>
<!-- candle icon (active) -->
<g stroke="#5714fa" stroke-width="1" stroke-linecap="butt" shape-rendering="crispEdges"><rect x="394.500" y="10.500" width="4" height="13"/><path d="M396.500 7V10M396.500 24V27"/><rect x="402.500" y="13.500" width="4" height="8"/><path d="M404.500 10V13M404.500 22V24"/></g>
<!-- hollow candles -->
<g stroke-width="1" stroke-linecap="butt" shape-rendering="crispEdges"><rect x="424.500" y="10.500" width="4" height="13" fill="#9d9fa6"/><path d="M426.500 7V10M426.500 24V26"/><rect x="432.500" y="13.500" width="4" height="8"/><path d="M434.500 10V13M434.500 22V24"/></g>
<!-- line chart -->
<path d="M449.100 23.600L456.500 14.700L462.300 20.800L470.700 10.200" stroke-width="1.200"/>
<path d="M483.2 15.6L486.8 18.7L490.4 15.6" stroke-width="1.100"/>
<!-- indicators icon -->
<g stroke-width="1.100"><path d="M516.800 14.700L521.800 9.600L526.100 13L534 8.100"/><path d="M517.200 25.700V21.200H521.800V25.700M521.800 21.200V18.500H529.500V25.700M525.800 18.500V25.700M529.500 18.500V15.300H533.700V25.700H517.200"/></g>
<path d="M619.4 15.6L623 18.7L626.6 15.6" stroke-width="1.100"/>
<!-- layout icon -->
<g stroke-width="1.1"><rect x="644.4" y="9.8" width="6" height="6" rx="1.5"/><rect x="653.8" y="9.8" width="6" height="6" rx="1.5"/><rect x="644.4" y="18.4" width="6" height="6" rx="1.5"/><rect x="653.8" y="18.4" width="6" height="6" rx="1.5"/></g>
<!-- alert icon -->
<g stroke-width="1.1"><path d="M701.6 25.3A8.2 8.2 0 1 1 706.6 17.6"/><path d="M690.2 13.4C688.6 11.2 690.6 8.2 693.6 9.2"/><path d="M703.2 9.2C706.2 8.2 708.4 11.2 706.8 13.4"/><path d="M698.4 13V17.6H695.4"/><path d="M704.400 19.200V27.400M700.300 23.300H708.500"/></g>
<!-- replay icon -->
<g stroke-width="1.1"><path d="M773.6 12.2V22.2L767.6 17.2Z"/><path d="M781.6 12.2V22.2L775.6 17.2Z"/></g>
<!-- undo -->
<path d="M866 12.6L862.2 16.2L866 19.8M862.4 16.2H870.4C873.2 16.2 874.8 18.2 874.8 21.6" stroke-width="1.2"/>
<!-- redo -->
<path d="M909 12.6L912.8 16.2L909 19.8M912.6 16.2H904.6C901.8 16.2 900.2 18.2 900.2 21.6" stroke-width="1.2" stroke="#c3c6cf"/>
</svg>
<div class="tb" style="left:28.400px;font-weight:bold;font-size:15.400px;line-height:33px;letter-spacing:0;transform:scaleX(0.803);transform-origin:0 50%;-webkit-text-stroke:0.3px #131722">APEEUR</div>
<div class="sep" style="left:140px;top:6px;height:22px"></div>
<div class="tb" style="left:153px">1m</div>
<div class="tb" style="left:185.5px">5m</div>
<div class="tb" style="left:217.5px">15m</div>
<div class="tb" style="left:257.6px;color:#4f1cf5">1h</div>
<div class="tb" style="left:284.8px">4h</div>
<div class="tb" style="left:311.8px">D</div>
<div class="tb" style="left:333.4px">W</div>
<div class="sep" style="left:378px;top:6px;height:22px"></div>
<div class="sep" style="left:501px;top:6px;height:22px"></div>
<div class="tb" style="left:541.2px">Indicators</div>
<div class="sep" style="left:675px;top:6px;height:22px"></div>
<div class="tb" style="left:715.4px">Alert</div>
<div class="tb" style="left:790.6px;letter-spacing:-0.850px">Replay</div>
<div class="sep" style="left:845px;top:6px;height:22px"></div>

<!-- legend -->
<svg width="300" height="100" viewBox="0 0 300 100">
<defs>
<linearGradient id="apeg" x1="0" y1="0" x2="0" y2="1"><stop offset="0" stop-color="#4004f0"/><stop offset="1" stop-color="#2a0098"/></linearGradient>
</defs>
<circle cx="23.200" cy="52.800" r="5.900" fill="#341fc0"/>
<g fill="#e9d936"><circle cx="20.500" cy="50.400" r=".75"/><rect x="22" y="48.900" width="2.100" height="1.100" rx=".4"/><circle cx="25.400" cy="50.400" r=".75"/><rect x="26" y="51.900" width="1.100" height="2.100" rx=".4"/><circle cx="25.500" cy="55.500" r=".75"/></g>
<circle cx="16.900" cy="59" r="7.500" fill="#fff"/>
<circle cx="16.900" cy="59" r="5.900" fill="url(#apeg)"/>
<path d="M14.200 60.300c0-1.700 1.400-3.200 3-3.600c.4-.9 1.900-.8 2.400.1c.9.300 1 1.400.2 1.900c-.4.300-.9.400-1.300.3c.4 1.800-.9 3-2.300 3c-1.200 0-2-.6-2-1.700z" fill="#fff" opacity=".92"/>
<circle cx="282" cy="56.3" r="8.6" fill="#d3efe7"/>
<circle cx="282" cy="56.3" r="3.6" fill="#22a384"/>
<rect x="11.500" y="70" width="31" height="20.500" rx="4" fill="#fff" stroke="#e0e3eb"/>
<path d="M17.6 78.200L21.200 81.400L24.800 78.200" fill="none" stroke="#131722" stroke-width="1.200" stroke-linecap="round" stroke-linejoin="round"/>
</svg>
<div class="abs" style="left:33.4px;top:46.700px;height:20px;line-height:20px;font-size:16px;letter-spacing:-0.340px;white-space:nowrap;color:#131722">ApeCoin / Euro · 1h ·</div>
<div class="abs" style="left:31.5px;top:72px;height:16px;line-height:16px;font-size:13px;color:#131722">1</div>
<div class="abs" style="left:307.4px;top:49.600px;height:16px;line-height:16px;font-size:12px;white-space:nowrap;color:#131722">O</div>
<div class="abs" style="left:318.4px;top:49.600px;height:16px;line-height:16px;font-size:12px;white-space:nowrap;color:#22a384">1.939</div>
<div class="abs" style="left:355.7px;top:49.600px;height:16px;line-height:16px;font-size:12px;white-space:nowrap;color:#131722">H</div>
<div class="abs" style="left:366.6px;top:49.600px;height:16px;line-height:16px;font-size:12px;white-space:nowrap;color:#22a384">1.956</div>
<div class="abs" style="left:405.3px;top:49.600px;height:16px;line-height:16px;font-size:12px;white-space:nowrap;color:#131722">L</div>
<div class="abs" style="left:413.6px;top:49.600px;height:16px;line-height:16px;font-size:12px;white-space:nowrap;color:#22a384">1.938</div>
<div class="abs" style="left:451.3px;top:49.600px;height:16px;line-height:16px;font-size:12px;white-space:nowrap;color:#131722">C</div>
<div class="abs" style="left:461.3px;top:49.600px;height:16px;line-height:16px;font-size:12px;white-space:nowrap;color:#22a384">1.956</div>
<div class="abs" style="left:499.4px;top:49.600px;height:16px;line-height:16px;font-size:12px;white-space:nowrap;color:#22a384">+0.019</div>
<div class="abs" style="left:542.8px;top:49.600px;height:16px;line-height:16px;font-size:12px;white-space:nowrap;color:#22a384">(+0.98%)</div>

<!-- price axis -->
<div class="abs" style="left:1387px;top:40px;width:49px;height:12px;overflow:hidden"><div class="pl" style="left:9px;top:-6px">2.400</div></div>
<div class="pl" style="top:94px">2.350</div>
<div class="pl" style="top:154px">2.300</div>
<div class="pl" style="top:214px">2.250</div>
<div class="pl" style="top:274px">2.200</div>
<div class="pl" style="top:334px">2.150</div>
<div class="pl" style="top:394px">2.100</div>
<div class="pl" style="top:454px">2.050</div>
<div class="pl" style="top:514px">2.000</div>
<div class="pl" style="top:634px">1.900</div>
<div class="pl" style="top:694px">1.850</div>
<div class="pl" style="top:754px">1.800</div>
<div class="pl" style="top:814px">1.750</div>
<div class="abs" style="left:1392px;top:44px;width:43.500px;height:24.500px;border:1px solid #e0e3eb;border-radius:4px;background:#fff"></div>
<div class="abs" style="left:1396.300px;top:48.500px;height:16px;line-height:16px;font-size:11.500px;letter-spacing:-0.700px;color:#131722">EUR</div>
<svg width="1436" height="930" viewBox="0 0 1436 930" fill="none">
<path d="M1426.300 55.500L1428.600 57.700L1430.900 55.500" stroke="#131722" stroke-width="1.500" stroke-linecap="round" stroke-linejoin="round"/>
<path d="M2 574.500H1388" stroke="#22a384" stroke-width="1" stroke-dasharray="1 2"/>
<path d="M1388 566H1430a2 2 0 0 1 2 2V595a2 2 0 0 1 -2 2H1388Z" fill="#26a182"/>
<!-- settings hexagon -->
<path d="M1407.400 877.600L1410.800 871.400H1418L1421.400 877.600L1418 883.800H1410.800Z" stroke="#131722" stroke-width="1.100" stroke-linejoin="round"/>
<circle cx="1414.400" cy="877.600" r="2.400" stroke="#131722" stroke-width="1.100"/>
</svg>
<div class="abs" style="left:1388px;top:568px;width:44px;height:15px;line-height:15px;font-size:12px;color:#fff;text-align:center;padding-left:2px">1.956</div>
<div class="abs" style="left:1388px;top:582px;width:44px;height:15px;line-height:15px;font-size:12px;color:#d9f0ea;text-align:center;padding-left:2px">00:36</div>
<!-- time axis -->
<div class="tl" style="left:9.500px">14</div>
<div class="tl" style="left:123.500px">16</div>
<div class="tl" style="left:274.500px">19</div>
<div class="tl" style="left:392.500px">21</div>
<div class="tl" style="left:508.500px">23</div>
<div class="tl" style="left:594px">12:00</div>
<div class="tl" style="left:680px">26</div>
<div class="tl" style="left:797.500px">28</div>
<div class="tl" style="left:883.500px">12:00</div>
<div class="tl" style="left:974.500px;font-weight:bold">Jul</div>
<div class="tl" style="left:1082.500px">3</div>
<div class="tl" style="left:1195.500px">5</div>
<div class="tl" style="left:1299.500px">7</div>
<div class="abs" style="left:2px;top:891px;width:1434px;height:1px;background:#e0e3eb"></div>

<!-- bottom toolbar -->
<div class="bb" style="left:16.6px;font-size:14.800px;transform:scaleX(0.814);transform-origin:0 50%">1D</div>
<div class="bb" style="left:45.5px;font-size:14.800px;transform:scaleX(0.819);transform-origin:0 50%">5D</div>
<div class="bb" style="left:74.6px;font-size:14.800px;transform:scaleX(0.919);transform-origin:0 50%">1M</div>
<div class="bb" style="left:106.5px;font-size:14.800px;transform:scaleX(0.924);transform-origin:0 50%">3M</div>
<div class="bb" style="left:138.5px;font-size:14.800px;transform:scaleX(0.924);transform-origin:0 50%">6M</div>
<div class="bb" style="left:170.5px;font-size:14.800px;transform:scaleX(0.861);transform-origin:0 50%">YTD</div>
<div class="bb" style="left:208.4px;font-size:14.800px;transform:scaleX(0.845);transform-origin:0 50%">1Y</div>
<div class="bb" style="left:237.5px;font-size:14.800px;transform:scaleX(0.856);transform-origin:0 50%">5Y</div>
<div class="bb" style="left:265.0px;font-size:14.800px;transform:scaleX(0.949);transform-origin:0 50%">All</div>
<div class="sep" style="left:291px;top:900px;height:22px"></div>
<div class="bb" style="left:1316.200px;letter-spacing:-0.17px">11:59:23 (UTC+3)</div>
<!-- floating drawing toolbar -->
<div class="abs" style="left:537px;top:899px;width:404px;height:40px;background:#fff;border-radius:6px;box-shadow:0 2px 6px rgba(0,0,0,.22),0 0 2px rgba(0,0,0,.12)"></div>
<svg width="1436" height="930" viewBox="0 0 1436 930" fill="none" stroke="#131722" stroke-width="1.100" stroke-linecap="round" stroke-linejoin="round">
<!-- calendar goto -->
<path d="M306.500 909.800V905.500a2 2 0 0 1 2 -2H321.500a2 2 0 0 1 2 2V916.300a2 2 0 0 1 -2 2H315.300M306.500 907.500H323.500M311.400 901V904.700M318.400 901V904.700M305 915.400H312.600M309.300 912.100L312.800 915.400L309.300 918.700" stroke-width="1.200"/>
<!-- drag dots -->
<g fill="#d1d4dc" stroke="none"><rect x="545.300" y="912" width="2" height="2"/><rect x="551" y="912" width="2" height="2"/><rect x="545.300" y="917" width="2" height="2"/><rect x="551" y="917" width="2" height="2"/><rect x="545.300" y="922" width="2" height="2"/><rect x="551" y="922" width="2" height="2"/></g>
<!-- trend line -->
<path d="M572.800 925.100L587.100 910.900"/><circle cx="571.400" cy="926.500" r="2"/><circle cx="588.500" cy="909.500" r="2"/>
<!-- fib -->
<path d="M607 908.400H628.800M607 914.200H626.500M607 920.300H628.800M609.400 926.300H628.800"/><circle cx="628.500" cy="914.200" r="2" fill="#fff"/><circle cx="607.400" cy="926.300" r="2" fill="#fff"/>
<!-- brush -->
<path d="M657.500 907.300L651 914.300L660.500 924.500L668.200 918M651 914.300L649.500 919.500L656 926.500L660.500 924.500M649.500 919.500L645.200 925.800L651.500 929L656 926.500"/>
<!-- crosshair -->
<path d="M683.200 918.300H690.900M698 918.300H705.700M694.400 906.900V914.500M694.400 921.700V930" stroke="#4f1cf5" stroke-width="1.200"/>
<!-- hline -->
<path d="M722.300 918.300H730.500M734.500 918.300H743"/><circle cx="732.500" cy="918.300" r="2"/>
<!-- ray -->
<path d="M764.500 918.300H780.600"/><circle cx="762.500" cy="918.300" r="2"/>
<!-- rectangle -->
<path d="M801.400 909.500H814.600M801.400 926.500H814.600M799.400 911.500V924.500M816.600 911.500V924.500"/><circle cx="799.400" cy="909.500" r="2"/><circle cx="816.600" cy="909.500" r="2"/><circle cx="799.400" cy="926.500" r="2"/><circle cx="816.600" cy="926.500" r="2"/>
<!-- callout -->
<path d="M837.600 909.500H855.700V922.600H842.500L837.800 926.800Z"/>
<!-- zigzag -->
<path d="M871.500 922.600L878.100 915.600M880.800 915.700L884.900 920.200M887.700 920.300L896.400 912M891.800 911.800H896.600V916.600"/><circle cx="879.400" cy="914.200" r="1.900"/><circle cx="886.300" cy="921.700" r="1.900"/>
<!-- head & shoulders -->
<path d="M909.300 922.500H935.300M911.500 925.200L914 916.300M915.300 916.500L917.500 921M919.500 921L922.200 910.300M923.400 910.300L925.600 921M927.400 921L929.800 916.500M931 916.300L933.500 925.200"/><circle cx="914.500" cy="914.500" r="1.800" fill="#fff"/><circle cx="922.800" cy="908.500" r="1.800" fill="#fff"/><circle cx="930.400" cy="914.500" r="1.800" fill="#fff"/><circle cx="918.500" cy="922.500" r="1.800" fill="#fff"/><circle cx="926.500" cy="922.500" r="1.800" fill="#fff"/><circle cx="911" cy="927" r="1.800" fill="#fff"/><circle cx="934" cy="927" r="1.800" fill="#fff"/>
</svg>
<div class="sep" style="left:1435px;top:892px;height:38px"></div>

</div>
</body>
</html>
